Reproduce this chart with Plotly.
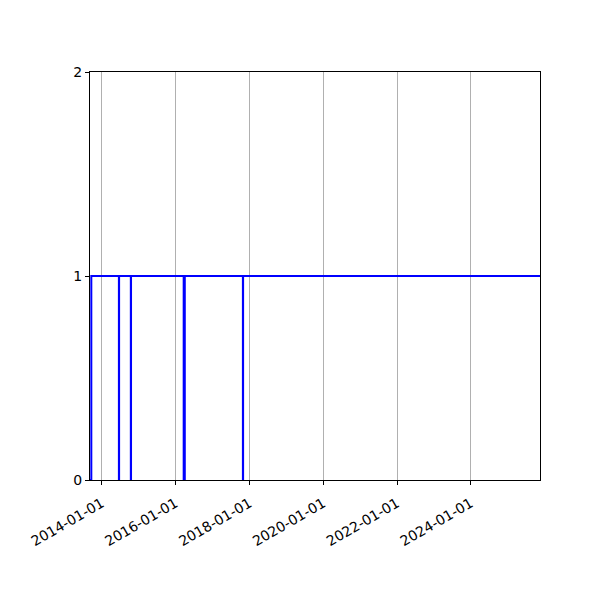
import plotly.graph_objects as go

# change points of the status series (value holds until next date)
dates = ["2013-09-07", "2013-09-20",
         "2014-06-20", "2014-06-22",
         "2014-10-16", "2014-10-18",
         "2016-03-22", "2016-03-24",
         "2016-03-31", "2016-04-02",
         "2017-10-29", "2017-10-31",
         "2025-11-16"]
values = [0, 1,
          0, 1,
          0, 1,
          0, 1,
          0, 1,
          0, 1,
          1]

tick_vals = ["2014-01-01", "2016-01-01", "2018-01-01",
             "2020-01-01", "2022-01-01", "2024-01-01"]

fig = go.Figure()
fig.add_trace(go.Scatter(x=dates, y=values, mode="lines",
                         line=dict(color="#0000ff", width=2, shape="hv")))

# page body has an 8px margin, so the margins are shifted to compensate
fig.update_layout(
    width=600, height=600,
    margin=dict(l=82, r=68, t=64, b=128),
    plot_bgcolor="white", paper_bgcolor="white",
    showlegend=False,
    font=dict(family="DejaVu Sans", size=14, color="black"),
)
fig.update_xaxes(
    range=[dates[0], dates[-1]],
    tickvals=tick_vals, ticktext=tick_vals,
    tickangle=-30,
    ticklabelstandoff=5,
    showgrid=True, gridcolor="#b0b0b0", gridwidth=1,
    showline=True, linecolor="black", linewidth=1, mirror=True,
    ticks="outside", ticklen=4, tickcolor="black",
    zeroline=False,
)
fig.update_yaxes(
    range=[0, 2],
    tickvals=[0, 1, 2],
    showgrid=False,
    showline=True, linecolor="black", linewidth=1, mirror=True,
    ticks="outside", ticklen=4, tickcolor="black",
    zeroline=False,
)

fig.write_html("out.html")
